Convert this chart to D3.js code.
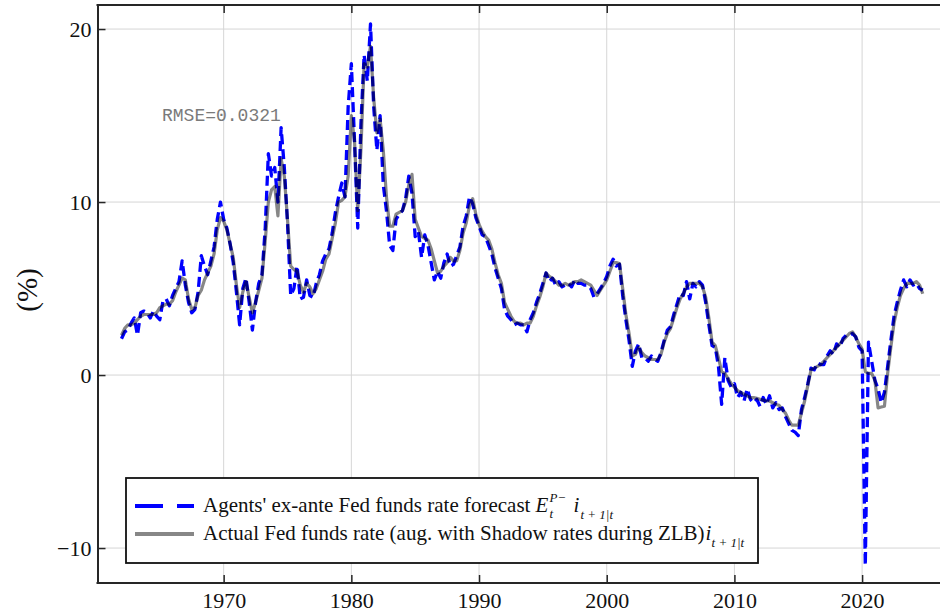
<!DOCTYPE html>
<html>
<head>
<meta charset="utf-8">
<script src="https://cdn.jsdelivr.net/npm/d3@7"></script>
<style>
  html, body { margin: 0; padding: 0; background: #fff; }
  svg { display: block; }
</style>
</head>
<body>
<svg id="chart" width="940" height="614"></svg>
<script>
// ---------- data (quarterly readings: Q1..Q4 of each year) ----------
const years = [1962,1963,1964,1965,1966,1967,1968,1969,1970,1971,1972,1973,1974,1975,1976,1977,1978,1979,
  1980,1981,1982,1983,1984,1985,1986,1987,1988,1989,1990,1991,1992,1993,1994,1995,1996,1997,1998,1999,
  2000,2001,2002,2003,2004,2005,2006,2007,2008,2009,2010,2011,2012,2013,2014,2015,2016,2017,2018,2019,
  2020,2021,2022,2023,2024];
const quarterOffsets = [0, 0.25, 0.5, 0.75];

// Actual Fed funds rate (augmented with shadow rates during ZLB)
const actual = [
  2.3,2.7,2.9,2.9,  3.0,3.2,3.4,3.5,  3.5,3.5,3.5,3.6,  3.9,4.0,4.1,4.1,
  4.3,4.8,5.2,5.6,  5.5,4.4,3.8,3.9,  4.6,4.9,5.5,5.9,  6.3,7.0,8.4,9.1,
  8.9,8.4,7.6,6.8,  5.2,3.9,4.8,5.4,  4.5,3.6,4.2,4.9,  5.6,7.7,10.0,10.7,
  10.9,9.2,12.5,11.5, 9.0,6.3,6.1,6.0, 5.2,4.8,5.3,5.1, 4.7,5.0,5.5,6.0,
  6.7,7.0,7.9,8.8,  10.0,10.1,10.3,11.5, 15.0,13.5,9.5,13.0, 18.0,17.8,19.0,16.0,
  14.0,14.8,13.0,10.3, 8.6,8.6,9.3,9.4, 9.5,10.0,11.0,11.6, 9.0,8.5,8.0,7.9,
  7.8,7.3,6.6,5.9,  6.0,6.3,6.5,6.8,  6.6,6.6,7.2,8.2,  8.8,9.8,10.2,9.3,
  8.7,8.3,8.0,7.8,  7.3,6.5,5.8,5.3,  4.2,3.8,3.4,3.1,  3.0,3.0,2.9,3.0,
  3.0,3.4,4.0,4.5,  5.1,5.9,5.7,5.6,  5.4,5.2,5.2,5.3,  5.2,5.3,5.4,5.4,
  5.5,5.4,5.3,5.2,  4.9,4.6,4.9,5.2,  5.5,6.0,6.5,6.5,  6.45,5.0,3.5,2.4,
  1.1,1.2,1.6,1.3,  1.1,1.0,0.9,0.9,  0.9,1.2,1.9,2.4,  2.7,3.3,3.9,4.4,
  4.7,5.1,5.3,5.3,  5.3,5.3,5.1,4.5,  3.3,1.9,1.7,1.0,  0.2,0.1,-0.2,-0.5,
  -0.7,-0.9,-1.0,-1.1, -1.2,-1.3,-1.3,-1.35, -1.4,-1.45,-1.5,-1.5, -1.6,-1.7,-1.75,-2.0,
  -2.2,-2.6,-2.9,-2.9, -2.9,-2.2,-1.5,-0.6, 0.3,0.4,0.5,0.6,  0.8,1.0,1.2,1.4,
  1.6,1.8,2.0,2.2,  2.4,2.5,2.2,1.8,  1.5,0.2,0.1,0.1,  -0.3,-1.9,-1.85,-1.8,
  0.1,1.6,3.0,3.9,  4.6,5.0,5.3,5.3,  5.3,5.4,5.2,4.7
];

// Agents' ex-ante Fed funds rate forecast
const forecast = [
  2.1,2.5,2.6,3.0,  3.3,2.3,3.6,3.7,  3.6,3.3,3.7,3.4,  3.2,4.3,4.4,4.0,
  4.6,5.0,5.4,6.6,  5.2,4.2,3.6,3.8,  4.8,6.9,6.3,5.8,  6.6,7.4,9.0,10.0,
  9.0,8.5,7.6,6.5,  4.8,2.9,5.0,5.6,  4.2,2.6,4.2,5.3,  5.8,8.4,12.8,11.5,
  12.0,10.0,14.3,12.0, 8.8,4.6,5.0,6.3, 4.4,4.5,5.5,4.6, 4.5,5.3,5.8,6.6,
  7.0,7.3,8.2,9.4,  10.3,11.1,10.3,15.5, 18.0,13.5,8.5,14.5, 18.5,17.0,20.3,15.5,
  13.0,15.0,11.0,9.5, 7.5,7.2,9.0,9.3, 9.5,10.2,11.5,10.5, 8.0,8.3,6.8,8.1,
  7.5,6.5,5.5,6.0,  5.6,6.5,7.0,6.3,  6.4,6.9,7.4,8.6,  9.2,10.3,9.9,9.1,
  8.6,8.1,8.0,7.5,  7.0,6.2,5.6,5.0,  3.8,3.4,3.2,2.9,  3.0,2.9,2.9,2.5,
  3.2,3.6,4.2,4.7,  5.3,5.9,5.4,5.6,  5.2,5.4,5.1,5.2,  5.3,5.1,5.5,5.3,
  5.3,5.2,5.2,5.0,  4.5,4.7,5.0,5.3,  5.7,6.3,6.7,6.3,  6.4,4.6,3.2,2.0,
  0.5,1.4,1.8,1.0,  1.0,0.8,1.1,0.9,  0.8,1.3,2.0,2.6,  2.8,3.5,4.1,4.7,
  4.6,5.4,4.4,5.3,  5.1,5.4,5.2,4.2,  2.9,1.7,1.6,0.5,  -1.7,1.0,-0.3,-0.7,
  -0.5,-1.3,-1.0,-1.5, -0.8,-1.4,-1.6,-1.4, -1.8,-1.3,-1.7,-1.2, -1.9,-1.6,-2.0,-1.9,
  -2.4,-2.8,-3.2,-3.3, -3.5,-2.0,-1.3,-0.5, 0.4,0.3,0.7,0.6,  0.6,1.1,1.4,1.2,
  1.8,1.6,2.1,2.3,  2.3,2.4,2.2,1.6,  1.4,-11.0,1.9,0.8,  -0.3,-0.8,-1.6,-1.0,
  0.5,2.0,3.4,4.2,  4.9,5.5,5.1,5.5,  5.2,5.3,5.0,4.9
];

const xTicks = [1970, 1980, 1990, 2000, 2010, 2020];
const yTicks = [-10, 0, 10, 20];
const rmseLabel = "RMSE=0.0321";
const yLabel = "(%)";
const legendText1 = "Agents' ex-ante Fed funds rate forecast";
const legendText2 = "Actual Fed funds rate (aug. with Shadow rates during ZLB)";

// ---------- build ----------
const dates = [];
years.forEach(y => quarterOffsets.forEach(q => dates.push(y + q)));
const rowsA = dates.map((d, i) => ({ x: d, y: actual[i] }));
const rowsF = dates.map((d, i) => ({ x: d, y: forecast[i] }));

const svg = d3.select("#chart");
const L = 97.5, R = 940, T = 5, B = 583;
const x = d3.scaleLinear().domain([1960.12, 2026.1]).range([L, R]);
const y = d3.scaleLinear().domain([-12.02, 21.39]).range([B, T]);
const serif = "'Liberation Serif', 'Times New Roman', serif";

// grid
const grid = svg.append("g");
grid.selectAll("line.gx").data(xTicks).join("line")
  .attr("x1", d => x(d)).attr("x2", d => x(d)).attr("y1", T).attr("y2", B)
  .attr("stroke", "#d6d6d6").attr("stroke-width", 1);
grid.selectAll("line.gy").data(yTicks).join("line")
  .attr("x1", L).attr("x2", R).attr("y1", d => y(d)).attr("y2", d => y(d))
  .attr("stroke", "#d6d6d6").attr("stroke-width", 1);

// series
const line = d3.line().x(d => x(d.x)).y(d => y(d.y));
svg.append("path").datum(rowsF).attr("d", line)
  .attr("fill", "none").attr("stroke", "#0000ff").attr("stroke-width", 3.3)
  .attr("stroke-dasharray", "10,5").attr("stroke-linejoin", "round");
svg.append("path").datum(rowsA).attr("d", line)
  .attr("fill", "none").attr("stroke", "#000").attr("stroke-opacity", 0.47)
  .attr("stroke-width", 3.2).attr("stroke-linejoin", "round");

// axes
const axisColor = "#262626";
const xAxis = svg.append("g").attr("transform", `translate(0,${B})`)
  .call(d3.axisBottom(x).tickValues(xTicks).tickSizeInner(-8).tickSizeOuter(0).tickPadding(9).tickFormat(d3.format("d")));
const xTop = svg.append("g").attr("transform", `translate(0,${T})`)
  .call(d3.axisTop(x).tickValues(xTicks).tickSizeInner(-8).tickSizeOuter(0).tickFormat(""));
const yAxis = svg.append("g").attr("transform", `translate(${L},0)`)
  .call(d3.axisLeft(y).tickValues(yTicks).tickSizeInner(-8).tickSizeOuter(0).tickPadding(6)
    .tickFormat(d => d < 0 ? "\u2212" + Math.abs(d) : d));
[xAxis, xTop, yAxis].forEach(g => {
  g.select(".domain").attr("stroke", axisColor).attr("stroke-width", 2);
  g.selectAll(".tick line").attr("stroke", axisColor).attr("stroke-width", 1.5);
  g.selectAll(".tick text").attr("fill", "#111").style("font-family", serif).style("font-size", "22px");
});
xAxis.select(".domain").attr("d", `M${L - 1},0H${R}`);
xTop.select(".domain").attr("d", `M${L - 1},0H${R}`);

// y label
svg.append("text").attr("transform", "translate(37,290) rotate(-90)")
  .attr("text-anchor", "middle").style("font-family", serif).style("font-size", "29px")
  .attr("fill", "#111").text(yLabel);

// RMSE annotation
svg.append("text").attr("x", 162).attr("y", 121)
  .style("font-family", "'Liberation Mono', 'DejaVu Sans Mono', monospace").style("font-size", "18px")
  .attr("fill", "#7a7a7a").text(rmseLabel);

// legend
const lg = svg.append("g");
lg.append("rect").attr("x", 126).attr("y", 478).attr("width", 632).attr("height", 85)
  .attr("fill", "#fff").attr("stroke", "#111").attr("stroke-width", 1.8);
lg.append("line").attr("x1", 135).attr("x2", 194).attr("y1", 506).attr("y2", 506)
  .attr("stroke", "#0000ff").attr("stroke-width", 4).attr("stroke-dasharray", "28,14");
lg.append("line").attr("x1", 135).attr("x2", 194).attr("y1", 534).attr("y2", 534)
  .attr("stroke", "#000").attr("stroke-opacity", 0.47).attr("stroke-width", 4);

const fs = 21, sfs = 13;
function txt(xp, yp, s, size, italic) {
  return lg.append("text").attr("x", xp).attr("y", yp)
    .style("font-family", serif).style("font-size", size + "px")
    .style("font-style", italic ? "italic" : "normal").attr("fill", "#111").text(s);
}
const t1 = txt(203, 512, legendText1, fs, false);
const w1 = t1.node().getComputedTextLength();
let cx = 203 + w1 + 5;
txt(cx, 512, "E", fs, true);
txt(cx + 14, 502, "P\u2212", sfs, true);
txt(cx + 14, 518, "t", sfs, true);
txt(cx + 38, 512, "i", fs, true);
txt(cx + 45, 519, "t + 1|t", sfs, true);

const t2 = txt(203, 540, legendText2, fs, false);
const w2 = t2.node().getComputedTextLength();
cx = 203 + w2 + 1;
txt(cx, 540, "i", fs, true);
txt(cx + 6, 547, "t + 1|t", sfs, true);
</script>
</body>
</html>
